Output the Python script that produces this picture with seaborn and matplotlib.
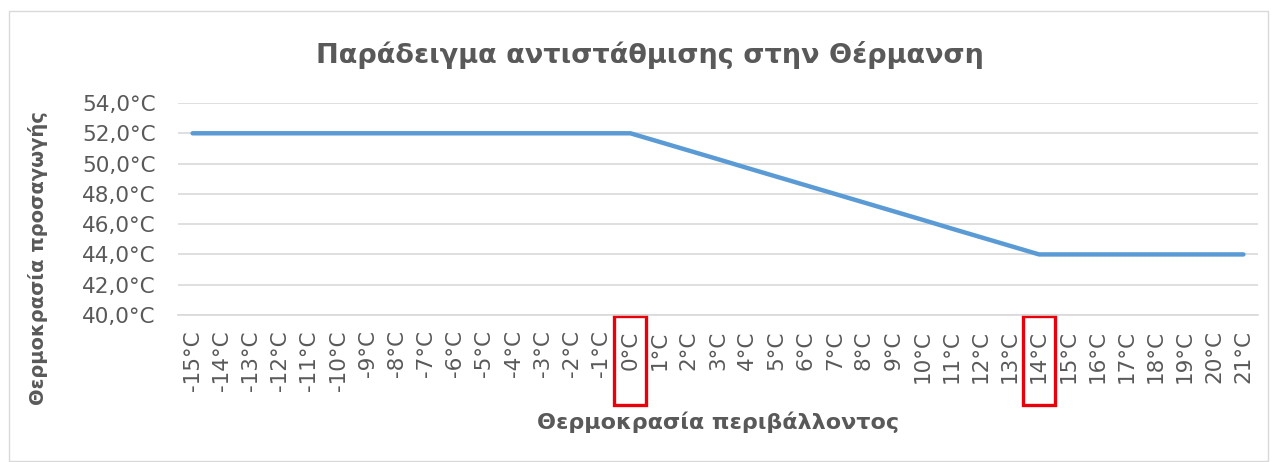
import matplotlib
matplotlib.use("Agg")
import matplotlib.pyplot as plt
import matplotlib.patches as mpatches
import matplotlib.transforms as mtransforms
import seaborn as sns

# Data
outdoor_temps = ["-15°C", "-14°C", "-13°C", "-12°C", "-11°C", "-10°C", "-9°C", "-8°C",
                 "-7°C", "-6°C", "-5°C", "-4°C", "-3°C", "-2°C", "-1°C", "0°C",
                 "1°C", "2°C", "3°C", "4°C", "5°C", "6°C", "7°C", "8°C", "9°C",
                 "10°C", "11°C", "12°C", "13°C", "14°C", "15°C", "16°C", "17°C",
                 "18°C", "19°C", "20°C", "21°C"]
flow_temps = [52.0, 52.0, 52.0, 52.0, 52.0, 52.0, 52.0, 52.0,
              52.0, 52.0, 52.0, 52.0, 52.0, 52.0, 52.0, 52.0,
              51.43, 50.86, 50.29, 49.71, 49.14, 48.57, 48.0, 47.43, 46.86,
              46.29, 45.71, 45.14, 44.57, 44.0, 44.0, 44.0, 44.0,
              44.0, 44.0, 44.0, 44.0]
y_ticks = [40, 42, 44, 46, 48, 50, 52, 54]
y_tick_labels = ["40,0°C", "42,0°C", "44,0°C", "46,0°C", "48,0°C", "50,0°C", "52,0°C", "54,0°C"]
highlighted = ["0°C", "14°C"]
title = "Παράδειγμα αντιστάθμισης στην Θέρμανση"
x_label = "Θερμοκρασία περιβάλλοντος"
y_label = "Θερμοκρασία προσαγωγής"

sns.set_theme(style="white")
plt.rcParams["font.family"] = ["DejaVu Sans"]

TEXT = "#595959"
GRID = "#D9D9D9"
LINE = "#5B9BD5"

fig = plt.figure(figsize=(12.78, 4.62), dpi=100)
ax = fig.add_axes([178/1278, 1 - 315/462, 1080/1278, 212/462])

sns.lineplot(x=outdoor_temps, y=flow_temps, sort=False, ax=ax, color=LINE,
             linewidth=3.2, solid_capstyle="round", solid_joinstyle="round")

ax.set_xlim(-0.5, len(outdoor_temps) - 0.5)
ax.set_ylim(40, 54)
ax.set_yticks(y_ticks)
ax.set_yticklabels(y_tick_labels)
ax.set_xticks(range(len(outdoor_temps)))
ax.set_xticklabels(outdoor_temps, rotation=90)
ax.tick_params(axis="both", colors=TEXT, labelsize=15.5, length=0)
ax.tick_params(axis="x", pad=11)
ax.tick_params(axis="y", pad=16)
ax.grid(axis="y", color=GRID, linewidth=1.2)
ax.set_axisbelow(True)
for s in ["top", "right", "left"]:
    ax.spines[s].set_visible(False)
ax.spines["bottom"].set_color(GRID)
ax.spines["bottom"].set_linewidth(1.2)
ax.set_xlabel("")
ax.set_ylabel("")

# Red highlight boxes around selected tick labels
trans = mtransforms.blended_transform_factory(ax.transData, ax.transAxes)
for lab in highlighted:
    i = outdoor_temps.index(lab)
    rect = mpatches.Rectangle((i - 0.55, -0.425), 1.1, 0.418, transform=trans,
                              fill=False, edgecolor="#E8000B", linewidth=2.4,
                              clip_on=False)
    ax.add_patch(rect)

fig.text(650/1278, 1 - 55/462, title, ha="center", va="center", fontsize=19.5,
         fontweight="bold", color=TEXT)
fig.text(718/1278, 1 - 422/462, x_label, ha="center", va="center", fontsize=16,
         fontweight="bold", color=TEXT)
fig.text(38/1278, 1 - 258/462, y_label, ha="center", va="center", fontsize=14,
         fontweight="bold", color=TEXT, rotation=90)

# Chart border
border = mpatches.Rectangle((9/1278, 1/462), 1259/1278, 450/462, transform=fig.transFigure,
                            fill=False, edgecolor="#D9D9D9", linewidth=1)
fig.patches.append(border)

fig.savefig("out.png", dpi=100)
